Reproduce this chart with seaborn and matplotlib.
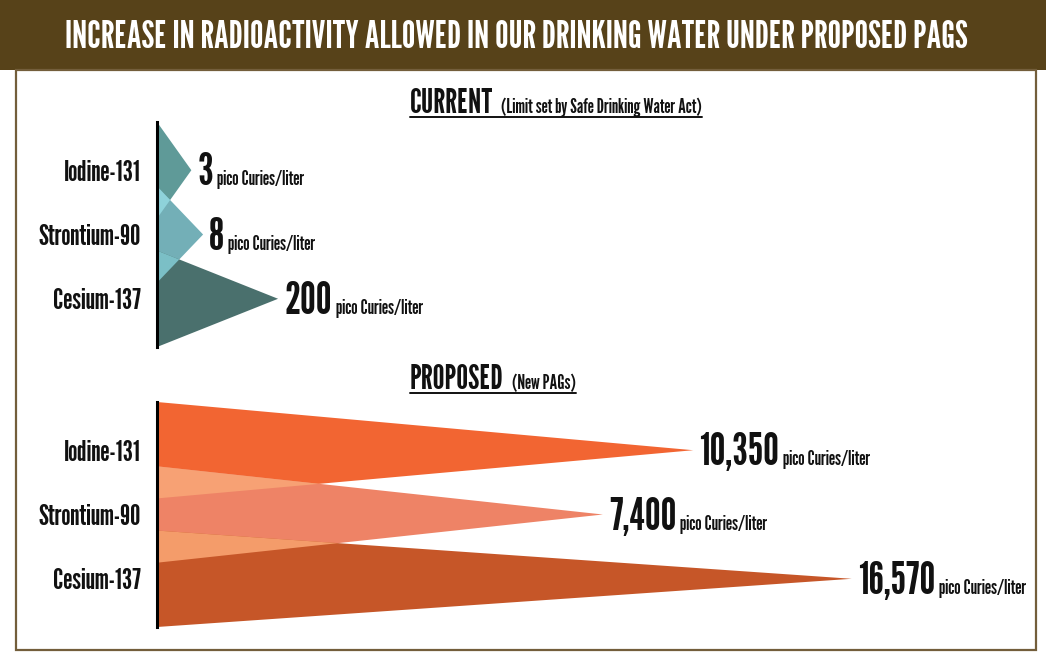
import numpy as np
import matplotlib
matplotlib.use("Agg")
import matplotlib.pyplot as plt
from matplotlib.patches import Rectangle
from matplotlib.lines import Line2D
import seaborn as sns

# ---------------- data ----------------
isotopes = ["Iodine-131", "Strontium-90", "Cesium-137"]
current_values = [3, 8, 200]
proposed_values = [10350, 7400, 16570]
current_labels = ["3", "8", "200"]
proposed_labels = ["10,350", "7,400", "16,570"]
unit_text = "pico Curies/liter"
title = "INCREASE IN RADIOACTIVITY ALLOWED IN OUR DRINKING WATER UNDER PROPOSED PAGS"
current_heading = ["CURRENT", "(Limit set by Safe Drinking Water Act)"]
proposed_heading = ["PROPOSED", "(New PAGs)"]

# ---------------- styles ----------------
current_colors = ["#5f9a98", "#73afb7", "#4a706d"]
current_overlap = ["#8ed2da", "#7bbfc6"]
proposed_colors = ["#f26532", "#ee8366", "#c65628"]
proposed_overlap = ["#f7a174", "#f49c6a"]
BANNER = "#574219"
BORDER = "#735e3b"
INK = "#111111"

sns.set_theme(style="white")
FONT = ["League Gothic", "Oswald", "DejaVu Sans"]
plt.rcParams["font.family"] = FONT

W, H = 1046, 652
fig = plt.figure(figsize=(W / 100, H / 100), dpi=100)
fig.patch.set_facecolor("white")


def fx(x):
    return x / W


def fy(y_top):
    return 1 - y_top / H


def px_axes(left, top, right, bottom):
    return fig.add_axes([fx(left), fy(bottom), (right - left) / W, (bottom - top) / H])


# banner and frame
fig.add_artist(Rectangle((0, fy(70)), 1, 70 / H, transform=fig.transFigure,
                         color=BANNER, lw=0, zorder=0))
fig.add_artist(Rectangle((fx(16), fy(650)), (1036 - 16) / W, (650 - 70) / H,
                         transform=fig.transFigure, fill=False,
                         edgecolor=BORDER, lw=1.6, zorder=0))
fig.text(fx(516), fy(38), title, ha="center", va="center", color="white",
         fontsize=27.3)

H_BAND = 1.5   # triangle base height, in units of row spacing
AX_LEFT, AX_RIGHT = 157, 1000


def panel(top, values, labels, colors, ocolors, p, k):
    ax = px_axes(AX_LEFT, top, AX_RIGHT, top + 225)
    ax.set_facecolor("none")
    fwd = lambda x: np.sign(x) * np.abs(x) ** p
    inv = lambda u: np.sign(u) * np.abs(u) ** (1.0 / p)
    ax.set_xscale("function", functions=(fwd, inv))
    centers = np.arange(len(values))
    h = H_BAND
    for c, v, col in zip(centers, values, colors):
        ax.fill([0, v, 0], [c - h / 2, c, c + h / 2], color=col, lw=0, zorder=2)
    # lighter overlap wedges between neighbouring triangles
    for i in range(len(values) - 1):
        ci, cj = centers[i], centers[i + 1]
        Li, Lj = fwd(values[i]), fwd(values[i + 1])
        u = (ci - cj + h) / ((h / 2) * (1 / Li + 1 / Lj))
        yx = ci + h / 2 - (h / 2) * u / Li
        ax.fill([0, inv(u), 0], [cj - h / 2, yx, ci + h / 2],
                color=ocolors[i], lw=0, zorder=3)
    ax.set_xlim(0, inv((AX_RIGHT - AX_LEFT) / k))
    ax.set_ylim(len(values) - 1 + h / 2, -h / 2)
    ax.set_xticks([])
    ax.set_yticks(centers, isotopes)
    ax.tick_params(axis="y", length=0, pad=11.5, labelsize=21, labelcolor=INK)
    sns.despine(ax=ax, top=True, right=True, bottom=True, left=False)
    ax.spines["left"].set_color("black")
    ax.spines["left"].set_linewidth(2.2)
    ax.spines["left"].set_zorder(5)
    for c, v, lab in zip(centers, values, labels):
        t = ax.annotate(lab, xy=(v, c), xycoords="data", xytext=(6, -15),
                        textcoords="offset pixels", ha="left", va="baseline",
                        fontsize=32, color=INK)
        ax.annotate(unit_text, xy=(1, c), xycoords=(t, "data"), xytext=(4, -15),
                    textcoords="offset pixels", ha="left", va="baseline",
                    fontsize=14.5, color=INK)
    return ax


ax1 = panel(122, current_values, current_labels, current_colors, current_overlap, 0.30, 24.7)
ax2 = panel(402, proposed_values, proposed_labels, proposed_colors, proposed_overlap, 0.55, 3.32)


def heading(parts, baseline):
    t1 = fig.text(fx(410), fy(baseline), parts[0], ha="left", va="baseline",
                  fontsize=24, color=INK)
    t2 = ax1.annotate(parts[1], xy=(1, fy(baseline)), xycoords=(t1, "figure fraction"),
                      xytext=(8, 0), textcoords="offset pixels", ha="left",
                      va="baseline", fontsize=14.3, color=INK,
                      annotation_clip=False)
    return t1, t2


heads = [heading(current_heading, 113), heading(proposed_heading, 389)]

fig.canvas.draw()
r = fig.canvas.get_renderer()
for (t1, t2), base in zip(heads, [113, 389]):
    b1 = t1.get_window_extent(r)
    b2 = t2.get_window_extent(r)
    y = fy(base + 4)
    fig.add_artist(Line2D([b1.x0 / W, b2.x1 / W], [y, y], transform=fig.transFigure,
                          color=INK, lw=1.4))

fig.savefig("out.png", dpi=100, facecolor="white")
